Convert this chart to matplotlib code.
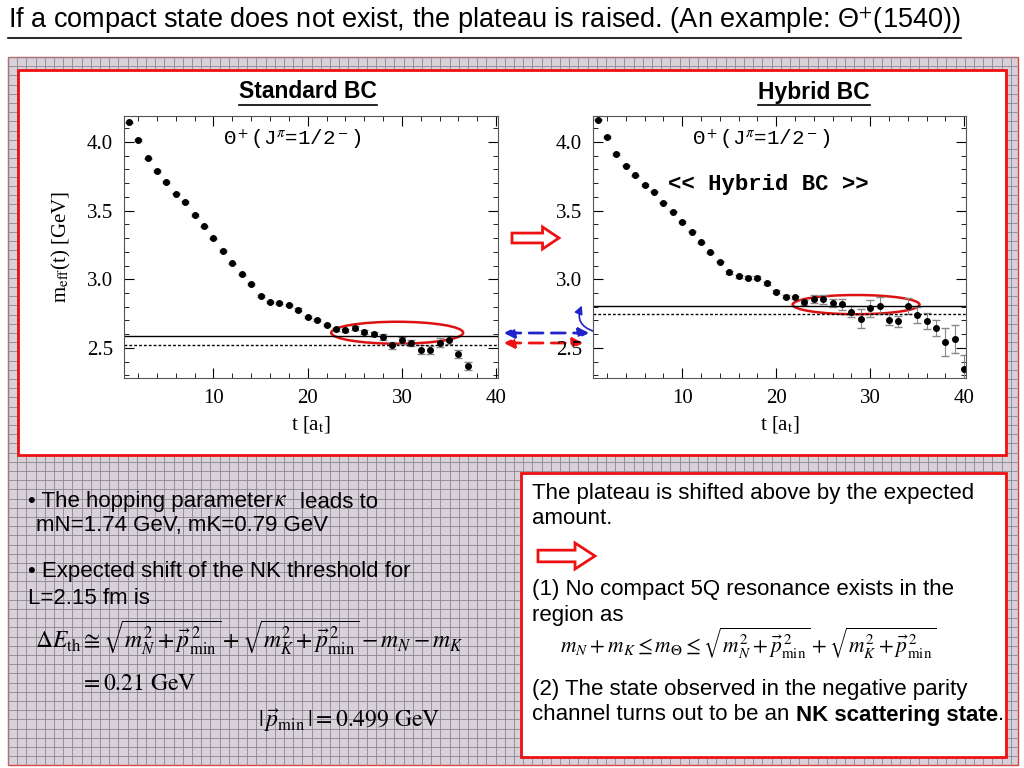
import matplotlib
matplotlib.use("Agg")
import matplotlib.pyplot as plt
import matplotlib.patches as mp
import numpy as np

# ---- data ----
t_std = list(range(1, 38))
m_std = [4.144, 4.015, 3.881, 3.788, 3.708, 3.623, 3.562, 3.467, 3.385, 3.297,
         3.207, 3.115, 3.036, 2.964, 2.876, 2.832, 2.825, 2.815, 2.779, 2.725,
         2.701, 2.669, 2.635, 2.628, 2.645, 2.615, 2.603, 2.579, 2.518, 2.555,
         2.535, 2.487, 2.482, 2.538, 2.557, 2.457, 2.365]
e_std = [0.005]*14 + [0.008]*8 + [0.012, 0.012, 0.012, 0.015, 0.015, 0.02, 0.025,
         0.025, 0.02, 0.03, 0.03, 0.03, 0.03, 0.03, 0.03]
fit_std, thr_std = 2.586, 2.52

t_hyb = list(range(1, 41))
m_hyb = [4.164, 4.038, 3.913, 3.828, 3.758, 3.686, 3.638, 3.558, 3.493, 3.418,
         3.346, 3.268, 3.196, 3.128, 3.051, 3.020, 3.010, 3.010, 2.971, 2.908,
         2.872, 2.867, 2.831, 2.857, 2.853, 2.826, 2.817, 2.763, 2.712, 2.788,
         2.807, 2.703, 2.693, 2.804, 2.739, 2.696, 2.645, 2.541, 2.565, 2.348]
e_hyb = [0.005]*14 + [0.01]*8 + [0.02, 0.03, 0.03, 0.03, 0.04, 0.04, 0.07, 0.06,
         0.06, 0.04, 0.04, 0.06, 0.06, 0.06, 0.06, 0.1, 0.1, 0.1]
fit_hyb, thr_hyb = 2.807, 2.745

xticks = [10, 20, 30, 40]
yticks = [2.5, 3.0, 3.5, 4.0]

W, H = 1024, 768
fig = plt.figure(figsize=(10.24, 7.68), dpi=100)
plt.rcParams['mathtext.fontset'] = 'stix'

def rect(x0, y0, x1, y1):
    return [x0 / W, 1 - y1 / H, (x1 - x0) / W, (y1 - y0) / H]

bg = fig.add_axes([0, 0, 1, 1])
bg.set_xlim(0, W); bg.set_ylim(H, 0); bg.axis('off')
bg.add_patch(mp.Rectangle((8, 57), 1010, 708, facecolor='#d9d1d9', edgecolor='#e04040', lw=1))
for x in np.arange(8, 1018, 9.2):
    bg.plot([x, x], [57, 765], color='#8a8590', lw=0.6)
for y in np.arange(57, 765, 9.2):
    bg.plot([8, 1018], [y, y], color='#8a8590', lw=0.6)
bg.add_patch(mp.Rectangle((18, 70), 988, 385, facecolor='white', edgecolor='#ee1111', lw=2, zorder=3))
bg.add_patch(mp.Rectangle((521, 473), 485, 284, facecolor='white', edgecolor='#ee1111', lw=2, zorder=3))

def ext(t):
    fig.canvas.draw()
    return t.get_window_extent().transformed(bg.transData.inverted())

def utext(x, y, s, size, **kw):
    t = bg.text(x, y, s, fontsize=size, family='Liberation Sans', zorder=5, **kw)
    bb = ext(t)
    bg.plot([bb.x0, bb.x1], [bb.y0 + 1, bb.y0 + 1], color='black', lw=1.2, zorder=5)
    return t

utext(8, 21, "If a compact state does not exist, the plateau is raised. (An example: Θ$^{+}$(1540))",
      19.5, va='center', ha='left')
utext(308, 92, "Standard BC", 16.5, va='center', ha='center', weight='bold')
utext(814, 92, "Hybrid BC", 16.5, va='center', ha='center', weight='bold')

def panel(pos, t, m, e, fit, thr, ylabel, hybrid):
    ax = fig.add_axes(rect(*pos))
    ax.set_zorder(4)
    ax.errorbar(t, m, yerr=e, fmt='o', color='black', ms=4, ecolor='#888888',
                elinewidth=0.8, capsize=3)
    ax.axhline(fit, color='black', lw=1)
    ax.axhline(thr, color='black', lw=1, ls=(0, (2, 1.5)))
    ax.set_xlim(0.5, 40.2)
    ax.set_ylim(2.28, 4.19)
    ax.set_xticks(xticks); ax.set_yticks(yticks)
    ax.set_yticklabels(["2.5", "3.0", "3.5", "4.0"])
    ax.minorticks_on()
    ax.tick_params(which='both', direction='in', top=True, right=True, labelsize=15)
    ax.tick_params(which='major', length=7, pad=8)
    ax.tick_params(which='minor', length=3.5)
    for lab in ax.get_xticklabels() + ax.get_yticklabels():
        lab.set_family('Liberation Serif')
    for s in ax.spines.values():
        s.set_color('#555555')
    ax.set_xlabel("t [a$_\\mathrm{t}$]", fontsize=15, family='Liberation Serif')
    if ylabel:
        ax.set_ylabel("m$_\\mathrm{eff}$(t) [GeV]", fontsize=15, family='Liberation Serif', labelpad=10)
    ax.text(0.45, 0.91, "Θ$^+$(J$^{π}$=1/2$^-$)", transform=ax.transAxes, ha='center', va='center',
            fontsize=15, family='Liberation Mono')
    if hybrid:
        ax.text(0.47, 0.74, "<< Hybrid BC >>", transform=ax.transAxes, ha='center', va='center',
                fontsize=16, family='Liberation Mono', weight='bold')
        ell = mp.Ellipse((28.5, 2.815), 13.5, 0.14, fill=False, edgecolor='#dd1111', lw=1.8)
    else:
        ell = mp.Ellipse((29.5, 2.61), 14, 0.16, fill=False, edgecolor='#dd1111', lw=1.8)
    ax.add_patch(ell)
    return ax

panel((124, 116, 498, 378), t_std, m_std, e_std, fit_std, thr_std, True, False)
panel((593, 116, 966, 378), t_hyb, m_hyb, e_hyb, fit_hyb, thr_hyb, False, True)

def block_arrow(x, y, w=47, h=22):
    bg.add_patch(mp.FancyArrow(x, y, w, 0, width=h * 0.45, head_width=h, head_length=w * 0.35,
                               length_includes_head=True, facecolor='white', edgecolor='#ee1111',
                               lw=2, zorder=6))
block_arrow(512, 238)
block_arrow(538, 556, 57, 26)

bg.annotate("", xy=(592, 333), xytext=(501, 333),
            arrowprops=dict(arrowstyle='<|-|>', color='#2222cc', lw=2, ls=(0, (5, 3)), mutation_scale=15), zorder=6)
bg.annotate("", xy=(586, 343), xytext=(501, 343),
            arrowprops=dict(arrowstyle='<|-|>', color='#ee1111', lw=2, ls=(0, (5, 3)), mutation_scale=15), zorder=6)
bg.annotate("", xy=(583, 303), xytext=(596, 332),
            arrowprops=dict(arrowstyle='-|>', color='#2222cc', lw=1.2, connectionstyle='arc3,rad=-0.6', mutation_scale=12), zorder=6)
bg.annotate("", xy=(596, 320), xytext=(596, 348),
            arrowprops=dict(arrowstyle='-|>', color='#ee1111', lw=1.2, connectionstyle='arc3,rad=0.9', mutation_scale=12), zorder=6)

fs = 16
T = dict(fontsize=fs, family='Liberation Sans', zorder=5, va='center')
ta = bg.text(28, 502, "• The hopping parameter", **T)
bb = ext(ta)
bg.text(bb.x1 + 1, 499, "$\\kappa$", fontsize=17, zorder=5, va='center')
bg.text(bb.x1 + 27, 502, "leads to", **T)
bg.text(36, 526, "mN=1.74 GeV, mK=0.79 GeV", **T)
bg.text(28, 572, "• Expected shift of the NK threshold for", **T)
bg.text(28, 598, "L=2.15 fm is", **T)
bg.text(35, 637, "$\\Delta E_{\\rm th} \\cong \\sqrt{m_N^2+\\vec{p}_{\\rm min}^{\\,2}}+\\sqrt{m_K^2+\\vec{p}_{\\rm min}^{\\,2}}-m_N-m_K$",
        fontsize=17, zorder=5, va='center')
bg.text(80, 683, "$= 0.21\\ \\mathrm{GeV}$", fontsize=17, zorder=5, va='center')
bg.text(258, 720, "$|\\,\\vec{p}_{\\rm min}\\,| = 0.499\\ \\mathrm{GeV}$", fontsize=17, zorder=5, va='center')

bg.text(532, 494, "The plateau is shifted above by the expected", **T)
bg.text(532, 519, "amount.", **T)
bg.text(532, 590, "(1) No compact 5Q resonance exists in the", **T)
bg.text(532, 616, "region as", **T)
bg.text(560, 643, "$m_N+m_K \\leq m_\\Theta \\leq \\sqrt{m_N^2+\\vec{p}_{\\rm min}^{\\,2}}+\\sqrt{m_K^2+\\vec{p}_{\\rm min}^{\\,2}}$",
        fontsize=15.5, zorder=5, va='center')
bg.text(532, 689, "(2) The state observed in the negative parity", **T)
t1 = bg.text(532, 715, "channel turns out to be an ", **T)
bb = ext(t1)
t2 = bg.text(bb.x1, 715, "NK scattering state", fontsize=fs, family='Liberation Sans', weight='bold', zorder=5, va='center')
bb2 = ext(t2)
bg.text(bb2.x1, 715, ".", **T)

fig.savefig("out.png", dpi=100)
